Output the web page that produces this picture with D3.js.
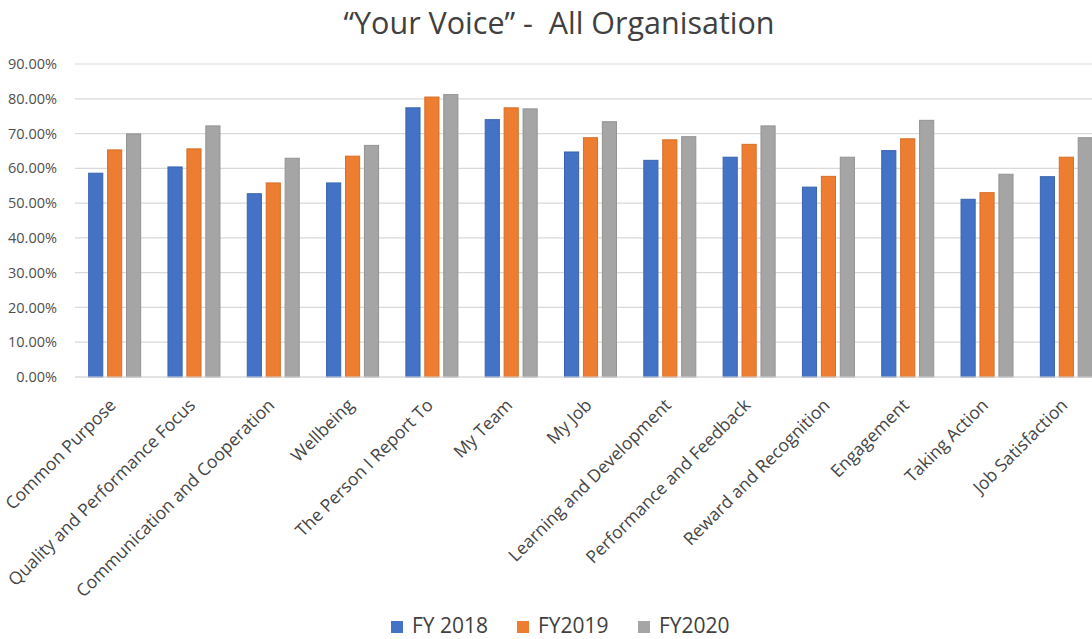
<!DOCTYPE html>
<html>
<head>
<meta charset="utf-8">
<script src="https://cdn.jsdelivr.net/npm/d3@7"></script>
<style>
  body { margin: 0; background: #fff; }
  svg { display: block; font-family: "Open Sans", "Noto Sans", sans-serif; }
</style>
</head>
<body>
<svg id="chart"></svg>
<script>
// chart data
const categories = [
  "Common Purpose", "Quality and Performance Focus", "Communication and Cooperation",
  "Wellbeing", "The Person I Report To", "My Team", "My Job",
  "Learning and Development", "Performance and Feedback", "Reward and Recognition",
  "Engagement", "Taking Action", "Job Satisfaction"
]
const seriesNames = ["FY 2018", "FY2019", "FY2020"]
const fy2018 = [58.6, 60.4, 52.7, 55.8, 77.4, 74.0, 64.7, 62.3, 63.2, 54.6, 65.1, 51.1, 57.6]
const fy2019 = [65.3, 65.6, 55.8, 63.5, 80.5, 77.4, 68.8, 68.2, 66.9, 57.7, 68.5, 53.0, 63.2]
const fy2020 = [69.9, 72.2, 62.9, 66.6, 81.2, 77.1, 73.4, 69.1, 72.2, 63.2, 73.8, 58.3, 68.8]
const yTicks = [0, 10, 20, 30, 40, 50, 60, 70, 80, 90]

const colors = ["#4472C4", "#ED7D31", "#A5A5A5"]
const strokes = ["#3a64b0", "#d66f29", "#939393"]

const W = 1092, H = 639
const margin = { top: 64, left: 75, bottom: 262 }
const plotW = 1031
const plotH = H - margin.top - margin.bottom

const svg = d3.select("#chart").attr("width", W).attr("height", H)

//title
svg.append("text")
  .attr("x", 559).attr("y", 34)
  .attr("text-anchor", "middle")
  .attr("font-size", 30.5)
  .attr("fill", "#404040")
  .style("white-space", "pre")
  .text("\u201CYour Voice\u201D -  All Organisation")

const g = svg.append("g").attr("transform", `translate(${margin.left},${margin.top})`)

//scales
const x = d3.scaleBand().domain(categories).range([0, plotW]).paddingInner(0).paddingOuter(0)
const y = d3.scaleLinear().domain([0, 90]).range([plotH, 0])
const x1 = d3.scaleBand().domain(seriesNames).range([0, 53]).paddingInner(0.2)

//gridlines
g.append("g").selectAll("line")
  .data(yTicks)
  .join("line")
  .attr("x1", 0).attr("x2", plotW)
  .attr("y1", d => y(d)).attr("y2", d => y(d))
  .attr("stroke", "#d9d9d9")
  .attr("stroke-width", 1.2)

//y axis labels
const yAxis = d3.axisLeft(y).tickValues(yTicks).tickFormat(d => d.toFixed(2) + "%").tickSize(0).tickPadding(18)
g.append("g").call(yAxis)
  .call(s => s.select(".domain").remove())
  .selectAll("text")
  .attr("font-size", 14.5)
  .attr("font-family", "Open Sans, sans-serif")
  .attr("fill", "#505050")

//bars
const data = categories.map((c, i) => ({ cat: c, vals: [fy2018[i], fy2019[i], fy2020[i]] }))
const groupOffset = (x.bandwidth() - 53) / 2

const groups = g.append("g").selectAll("g")
  .data(data)
  .join("g")
  .attr("transform", d => `translate(${x(d.cat) + groupOffset},0)`)

groups.selectAll("rect")
  .data(d => d.vals.map((v, j) => ({ name: seriesNames[j], v: v, j: j })))
  .join("rect")
  .attr("x", d => x1(d.name) + 0.5)
  .attr("y", d => y(d.v))
  .attr("width", x1.bandwidth() - 1)
  .attr("height", d => plotH - y(d.v))
  .attr("fill", d => colors[d.j])
  .attr("stroke", d => strokes[d.j])
  .attr("stroke-width", 1)

//axis line
g.append("line")
  .attr("x1", 0).attr("x2", plotW)
  .attr("y1", plotH).attr("y2", plotH)
  .attr("stroke", "#d9d9d9")
  .attr("stroke-width", 1.2)

//x labels
const xAxis = d3.axisBottom(x).tickSize(0).tickPadding(0)
g.append("g")
  .attr("transform", `translate(0,${plotH})`)
  .call(xAxis)
  .call(s => s.select(".domain").remove())
  .selectAll("text")
  .attr("font-size", 17.5)
  .attr("font-family", "Open Sans, sans-serif")
  .attr("fill", "#454545")
  .attr("text-anchor", "end")
  .attr("transform", "translate(-2,25) rotate(-45)")
  .attr("dy", "0.35em")

//legend
const legendX = [391, 517, 638]
const legend = svg.append("g").selectAll("g")
  .data(seriesNames)
  .join("g")
  .attr("transform", (d, i) => `translate(${legendX[i]},621)`)

legend.append("rect")
  .attr("width", 12).attr("height", 12)
  .attr("fill", (d, i) => colors[i])

legend.append("text")
  .attr("x", 21).attr("y", 12)
  .attr("font-size", 21)
  .attr("fill", "#404040")
  .text(d => d)
</script>
</body>
</html>
